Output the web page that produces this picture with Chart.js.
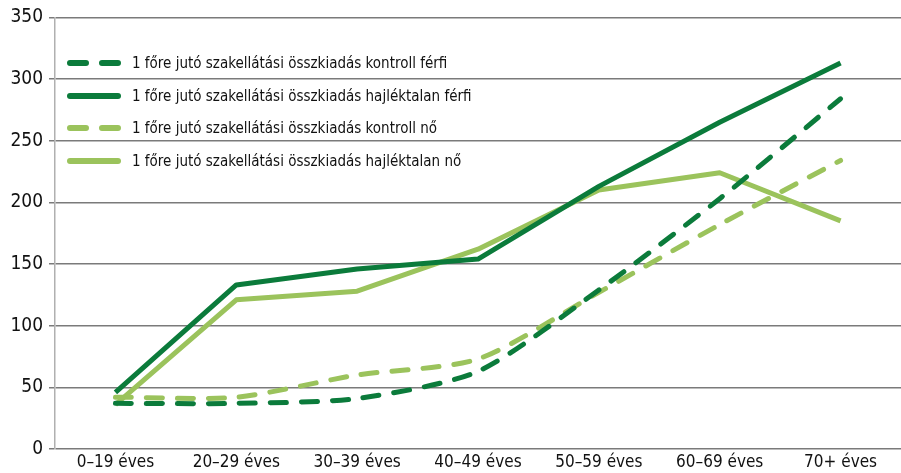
<!DOCTYPE html>
<html>
<head>
<meta charset="utf-8">
<script src="https://cdn.jsdelivr.net/npm/chart.js@4"></script>
<style>
    html, body { margin: 0; padding: 0; background: #fff; }
    #wrap { position: relative; width: 901px; height: 473px; }
    #legend { position: absolute; left: 66px; top: 51px; font-family: "Liberation Sans Narrow", "DejaVu Sans Condensed", "Roboto Condensed", sans-serif; font-size: 15px; color: #111; }
    #legend .item { position: absolute; left: 0; height: 20px; white-space: nowrap; display: flex; align-items: center; }
    #legend svg { margin-right: 10px; }
</style>
</head>
<body>
<div id="wrap">
    <canvas id="chart" width="901" height="473"></canvas>
    <div id="legend"></div>
</div>
<script>
const categories = ['0–19 éves', '20–29 éves', '30–39 éves', '40–49 éves', '50–59 éves', '60–69 éves', '70+ éves'];
const yTicks = [0, 50, 100, 150, 200, 250, 300, 350];

const kontrollFerfi = [37, 37, 41, 63, 129, 203, 284];
const hajlektalanFerfi = [46, 133, 146, 154, 213, 265, 313];
const kontrollNo = [42, 42, 60, 73, 127, 182, 234];
const hajlektalanNo = [36, 121, 128, 162, 210, 224, 185];

const DARK = '#0b7b3b';
const LIGHT = '#9bc35c';

const series = [
    { label: '1 főre jutó szakellátási összkiadás kontroll férfi', data: kontrollFerfi, color: DARK, dashed: true },
    { label: '1 főre jutó szakellátási összkiadás hajléktalan férfi', data: hajlektalanFerfi, color: DARK, dashed: false },
    { label: '1 főre jutó szakellátási összkiadás kontroll nő', data: kontrollNo, color: LIGHT, dashed: true },
    { label: '1 főre jutó szakellátási összkiadás hajléktalan nő', data: hajlektalanNo, color: LIGHT, dashed: false }
];

const tickFont = { family: '"Liberation Sans Narrow", "DejaVu Sans Condensed", sans-serif', size: 19 };

new Chart(document.getElementById('chart'), {
    type: 'line',
    data: {
        labels: categories,
        datasets: series.map(s => ({
            label: s.label,
            data: s.data,
            borderColor: s.color,
            backgroundColor: s.color,
            borderWidth: 5,
            borderDash: s.dashed ? [16, 15] : [],
            borderCapStyle: s.dashed ? 'round' : 'butt',
            borderJoinStyle: 'round',
            tension: s.dashed ? 0.25 : 0,
            pointRadius: 0,
            fill: false
        }))
    },
    options: {
        responsive: false,
        animation: false,
        layout: { padding: { top: 11, right: 0, left: 0, bottom: 0 } },
        plugins: {
            legend: { display: false },
            tooltip: { enabled: false }
        },
        scales: {
            x: {
                offset: true,
                afterFit: axis => { axis.height = 24; },
                grid: { display: false, drawTicks: false },
                border: { display: false },
                ticks: { color: '#111', font: { ...tickFont, size: 17 }, padding: 3, maxRotation: 0, autoSkip: false }
            },
            y: {
                min: 0,
                max: 350,
                afterBuildTicks: axis => { axis.ticks = yTicks.map(v => ({ value: v })); },
                afterFit: axis => { axis.width = 55; },
                grid: { color: '#7a7a7a', lineWidth: 1.5, tickLength: 6 },
                border: { display: true, color: '#b0b0b0', width: 1.5 },
                ticks: { color: '#111', font: tickFont, padding: 6 }
            }
        }
    }
});

// legend drawn inside the plot, top-left
const legendEl = document.getElementById('legend');
const rowTops = [2, 35, 67, 100];
series.forEach((s, i) => {
    const item = document.createElement('div');
    item.className = 'item';
    item.style.top = rowTops[i] + 'px';
    const dash = s.dashed ? 'stroke-dasharray="16 16"' : '';
    item.innerHTML = '<svg width="56" height="10"><line x1="4" y1="5" x2="52" y2="5" stroke="' + s.color +
        '" stroke-width="6" stroke-linecap="round" ' + dash + '/></svg><span>' + s.label + '</span>';
    legendEl.appendChild(item);
});
</script>
</body>
</html>
